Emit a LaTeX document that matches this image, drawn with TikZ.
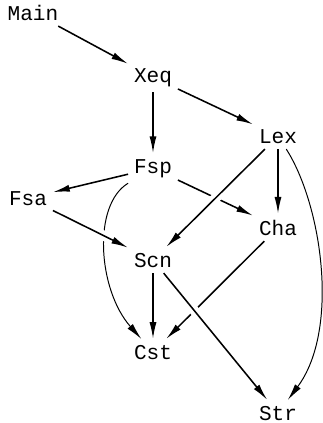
\documentclass[tikz,border=0pt]{standalone}
\usepackage{fontspec}
\setmonofont{Liberation Mono}
\usetikzlibrary{arrows.meta}

\tikzset{
  mod/.style={font=\ttfamily\fontsize{15}{18}\selectfont, inner sep=4pt, anchor=base},
  dep/.style={line width=1.1pt, -{Latex[length=12pt,width=5pt]}},
  bent/.style={line width=0.7pt, -{Latex[length=12pt,width=5pt]}},
  over/.style={preaction={draw=white, line width=7pt, -}}
}

\begin{document}
\begin{tikzpicture}[x=0.025cm, y=-0.025cm]
\useasboundingbox (0,0) rectangle (323,423);

% Modules (placed on their baselines)
\node[mod] (main) at (33,20)  {Main};
\node[mod] (xeq)  at (153,82) {Xeq};
\node[mod] (lex)  at (278,143) {Lex};
\node[mod] (fsp)  at (153,173) {Fsp};
\node[mod] (fsa)  at (28,205) {Fsa};
\node[mod] (cha)  at (278,235) {Cha};
\node[mod] (scn)  at (153,267) {Scn};
\node[mod] (cst)  at (153,359) {Cst};
\node[mod] (str)  at (278,420) {Str};

% Dependencies that get broken at crossings
\draw[dep] (main) -- (xeq);
\draw[dep] (xeq) -- (fsp);
\draw[dep] (xeq) -- (lex);
\draw[dep] (fsp) -- (fsa);
\draw[dep] (fsp) -- (cha);
\draw[bent] (fsp) .. controls (92,205) and (98,290) .. (cst);
\draw[dep] (cha) -- (cst);

% Dependencies passing over them
\draw[dep, over] (fsa) -- (scn);
\draw[dep, over] (lex) -- (scn);
\draw[dep, over] (scn) -- (str);

\draw[dep] (lex) -- (cha);
\draw[bent] (lex) .. controls (322,205) and (340,330) .. (str);
\draw[dep] (scn) -- (cst);

\end{tikzpicture}
\end{document}
